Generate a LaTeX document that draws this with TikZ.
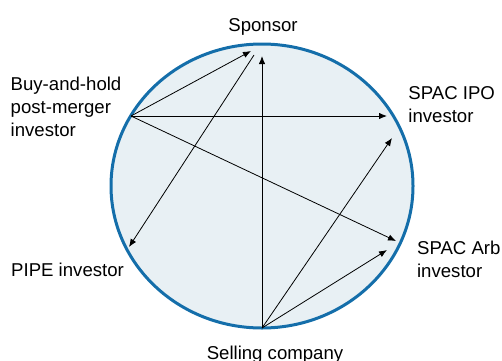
\documentclass[tikz,border=0pt]{standalone}
\usepackage{fontspec}
\setmainfont{Liberation Sans}
\usetikzlibrary{arrows.meta}
\definecolor{ringblue}{RGB}{20,110,170}
\definecolor{ringfill}{RGB}{232,240,244}
\tikzset{
	flow/.style={-{Latex[length=4pt,width=3.2pt]},line width=0.4pt},
	party/.style={inner sep=0pt,align=left,font=\fontsize{9.3}{11.5}\selectfont}
}
\begin{document}
\begin{tikzpicture}[x=0.5pt,y=0.5pt]
		\useasboundingbox (0,0) rectangle (502,360);
		% market
		\draw[ringblue,fill=ringfill,line width=1.5pt] (262,174) ellipse (151 and 142);
		% parties
		\node [party,anchor=base] (sponsor) at (263,329) {Sponsor};
		\node [party,anchor=base west] (hold) at (10.3,223.3) {Buy-and-hold\\post-merger\\investor};
		\node [party,anchor=base west] (ipo) at (408,237.7) {SPAC IPO\\investor};
		\node [party,anchor=base west] (pipe) at (10.8,84) {PIPE investor};
		\node [party,anchor=base west] (arb) at (416.7,82.3) {SPAC Arb\\investor};
		\node [party,anchor=base] (seller) at (275,0.5) {Selling company};
		% ends on the ring
		\coordinate (h0) at (131,244);
		\coordinate (s0) at (262,32);
		\coordinate (p0) at (254,305);
		\coordinate (sp1) at (251,309);
		\coordinate (sp2) at (262,304);
		\coordinate (ipo1) at (387,244);
		\coordinate (ipo2) at (392,222);
		\coordinate (arb1) at (396,119);
		\coordinate (arb2) at (387,110);
		\coordinate (pipe1) at (129,113);
		% flows
		\draw[flow] (h0) -- (sp1);
		\draw[flow] (h0) -- (ipo1);
		\draw[flow] (h0) -- (arb1);
		\draw[flow] (p0) -- (pipe1);
		\draw[flow] (s0) -- (sp2);
		\draw[flow] (s0) -- (ipo2);
		\draw[flow] (s0) -- (arb2);
	\end{tikzpicture}
\end{document}
